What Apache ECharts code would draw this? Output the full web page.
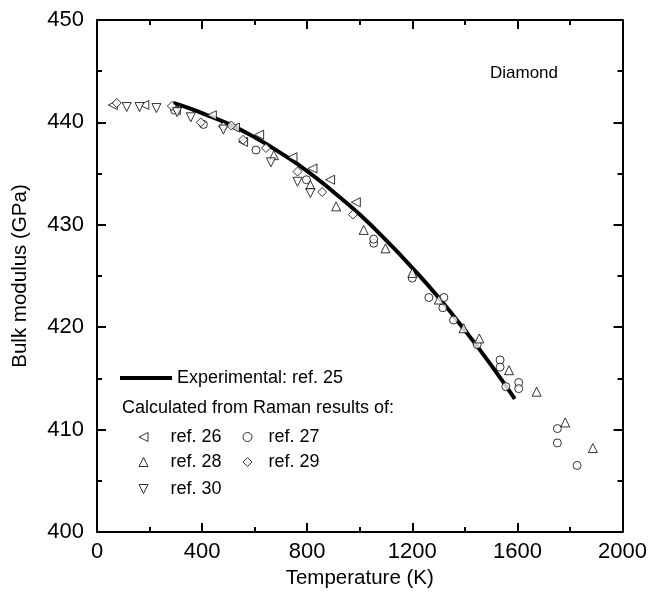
<!DOCTYPE html>
<html>
<head>
<meta charset="utf-8">
<script src="https://cdn.jsdelivr.net/npm/echarts@6/dist/echarts.min.js"></script>
<style>html,body{margin:0;padding:0;background:#fff}#c{width:650px;height:602px}</style>
</head>
<body>
<div id="c"></div>
<script>
// Experimental curve (ref. 25)
var expT = [290, 350, 400, 500, 600, 700, 800, 900, 1000, 1100, 1200, 1300, 1400, 1500, 1590];
var expB = [441.9, 441.4, 440.9, 439.85, 438.55, 437.0, 435.25, 433.2, 431.0, 428.5, 425.8, 422.9, 419.7, 416.3, 413.0];

// ref. 26 (left triangles)
var ref26T = [60, 180, 300, 437, 525, 556, 617, 744, 820, 887, 985];
var ref26B = [441.7, 441.7, 441.2, 440.7, 439.5, 438.1, 438.8, 436.6, 435.5, 434.4, 432.2];
// ref. 27 (circles)
var ref27T = [295, 405, 605, 797, 1053, 1053, 1200, 1263, 1320, 1316, 1357, 1447, 1534, 1534, 1556, 1605, 1605, 1752, 1752, 1827];
var ref27B = [441.2, 439.8, 437.3, 434.4, 428.2, 428.6, 424.8, 422.9, 422.9, 421.9, 420.7, 418.3, 416.8, 416.1, 414.2, 414.6, 414.0, 410.1, 408.7, 406.5];
// ref. 28 (up triangles)
var ref28T = [673, 812, 910, 1015, 1098, 1200, 1301, 1395, 1455, 1568, 1673, 1782, 1887];
var ref28B = [436.8, 433.9, 431.8, 429.5, 427.7, 425.3, 422.7, 419.9, 418.9, 415.8, 413.7, 410.7, 408.2];
// ref. 29 (diamonds)
var ref29T = [75, 285, 395, 481, 511, 556, 643, 763, 857, 974];
var ref29B = [441.9, 441.6, 440.0, 439.6, 439.7, 438.3, 437.5, 435.2, 433.2, 431.0];
// ref. 30 (down triangles)
var ref30T = [113, 162, 226, 305, 357, 481, 662, 763, 812];
var ref30B = [441.5, 441.5, 441.4, 441.0, 440.5, 439.3, 436.1, 434.2, 433.1];

var xTicks = [0, 400, 800, 1200, 1600, 2000];
var yTicks = [400, 410, 420, 430, 440, 450];

function pairs(a, b) { return a.map(function (v, i) { return [v, b[i]]; }); }

var FONT = "'Liberation Sans', Arial, Helvetica, sans-serif";
var axisLine = { show: true, onZero: false, lineStyle: { color: '#000', width: 2 } };
var tick = { show: true, inside: true, length: 9, lineStyle: { color: '#000', width: 2 } };
var minor = { show: true, splitNumber: 2, length: 5, lineStyle: { color: '#000', width: 2 } };

var mk = { color: '#fff', borderColor: '#000', borderWidth: 1 };

// legend icon shapes
var ICON_LEFT = 'path://M10,0L10,10L0,5Z';
var ICON_UP = 'path://M5,0L10,10L0,10Z';
var ICON_DOWN = 'path://M0,0L10,0L5,10Z';

function scatter(name, T, B, symbol, rot, size) {
  return {
    name: name, type: 'scatter', data: pairs(T, B), symbol: symbol, symbolRotate: rot,
    symbolSize: size, itemStyle: mk, z: 5, animation: false
  };
}

function leg(name, left, top, icon, pad) {
  return {
    data: [{ name: name, icon: icon }], left: left, top: top, itemWidth: 9, itemHeight: 9, padding: 0,
    selectedMode: false, orient: 'horizontal', symbolKeepAspect: true,
    itemStyle: { color: '#fff', borderColor: '#000', borderWidth: 1 },
    textStyle: { fontFamily: FONT, fontSize: 18, color: '#000', padding: [0, 0, 0, pad] }
  };
}

function plainLabel(v) { return String(v); }

var chart = echarts.init(document.getElementById('c'), null, { renderer: 'canvas' });
chart.setOption({
  animation: false,
  backgroundColor: '#fff',
  title: {
    text: 'Diamond', left: 490, top: 65, padding: 0,
    textStyle: { fontFamily: FONT, fontSize: 17, fontWeight: 'normal', color: '#000' }
  },
  grid: { left: 97, right: 21, top: 20, bottom: 70, containLabel: false },
  xAxis: [{
    type: 'value', min: xTicks[0], max: xTicks[xTicks.length - 1], interval: 400,
    name: 'Temperature (K)', nameLocation: 'middle', nameGap: 35,
    nameTextStyle: { fontFamily: FONT, fontSize: 20.5, color: '#000' },
    axisLine: axisLine, axisTick: tick, minorTick: minor, splitLine: { show: false },
    axisLabel: { fontFamily: FONT, fontSize: 22, color: '#000', margin: 9, formatter: plainLabel }
  }, {
    type: 'value', position: 'top', min: xTicks[0], max: xTicks[xTicks.length - 1], interval: 400,
    axisLine: axisLine, axisTick: tick, minorTick: minor, splitLine: { show: false },
    axisLabel: { show: false }
  }],
  yAxis: [{
    type: 'value', min: yTicks[0], max: yTicks[yTicks.length - 1], interval: 10,
    name: 'Bulk modulus (GPa)', nameLocation: 'middle', nameGap: 66,
    nameTextStyle: { fontFamily: FONT, fontSize: 20.5, color: '#000' },
    axisLine: axisLine, axisTick: tick, minorTick: minor, splitLine: { show: false },
    axisLabel: { fontFamily: FONT, fontSize: 22, color: '#000', margin: 13, formatter: plainLabel }
  }, {
    type: 'value', position: 'right', min: yTicks[0], max: yTicks[yTicks.length - 1], interval: 10,
    axisLine: axisLine, axisTick: tick, minorTick: minor, splitLine: { show: false },
    axisLabel: { show: false }
  }],
  legend: [
    {
      data: [{ name: 'Experimental: ref. 25', icon: 'rect' }], left: 120, top: 369, itemWidth: 52, itemHeight: 4,
      padding: 0, itemGap: 0, selectedMode: false,
      itemStyle: { color: '#000', borderWidth: 0 },
      textStyle: { fontFamily: FONT, fontSize: 18, color: '#000', padding: [0, 0, 0, 0] }
    },
    leg('ref. 26', 138.5, 428, ICON_LEFT, 17.5),
    leg('ref. 27', 242.5, 428, 'circle', 11.5),
    leg('ref. 28', 138.5, 453, ICON_UP, 17.5),
    leg('ref. 29', 242.5, 453, 'diamond', 11.5),
    leg('ref. 30', 138.5, 480, ICON_DOWN, 17.5)
  ],
  graphic: [{
    type: 'text', left: 122, top: 399,
    style: { text: 'Calculated from Raman results of:', font: '18px ' + FONT, fill: '#000' }
  }],
  series: [
    {
      name: 'Experimental: ref. 25', type: 'line', data: pairs(expT, expB), smooth: true,
      symbol: 'none', showSymbol: false, lineStyle: { color: '#000', width: 4 }, itemStyle: { color: '#000' }, z: 3
    },
    scatter('ref. 26', ref26T, ref26B, 'triangle', 90, 9),
    scatter('ref. 27', ref27T, ref27B, 'circle', 0, 8),
    scatter('ref. 28', ref28T, ref28B, 'triangle', 0, 9),
    scatter('ref. 29', ref29T, ref29B, 'diamond', 0, 9),
    scatter('ref. 30', ref30T, ref30B, 'triangle', 180, 9)
  ]
});
</script>
</body>
</html>
